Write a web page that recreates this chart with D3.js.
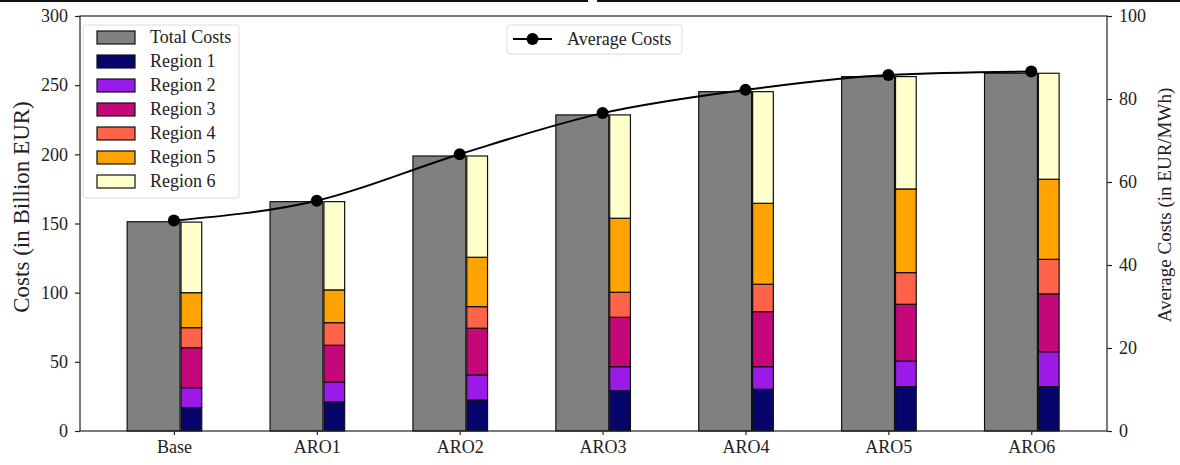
<!DOCTYPE html>
<html>
<head>
<meta charset="utf-8">
<script src="https://cdn.jsdelivr.net/npm/d3@7"></script>
<style>
body { margin:0; background:#fff; }
text { font-family: "Liberation Serif", "DejaVu Serif", serif; fill:#222; }
</style>
</head>
<body>
<svg id="drawing_region"></svg>
<script>
// chart data
const scenarios = ["Base","ARO1","ARO2","ARO3","ARO4","ARO5","ARO6"];
const totalCosts = [151.3, 165.8, 198.8, 228.5, 245.3, 256.2, 258.6];
const averageCosts = [50.7, 55.5, 66.7, 76.6, 82.2, 85.8, 86.6];
const regionNames = ["Region 1","Region 2","Region 3","Region 4","Region 5","Region 6"];
const region1 = [16.8, 21.0, 22.4, 29.1, 30.2, 32.0, 32.0];
const region2 = [14.5, 14.4, 18.1, 17.4, 16.3, 18.6, 25.3];
const region3 = [28.9, 26.6, 33.8, 35.7, 39.8, 41.0, 41.8];
const region4 = [14.5, 16.3, 15.6, 18.1, 19.8, 22.9, 25.0];
const region5 = [25.3, 23.7, 35.7, 53.5, 58.5, 60.5, 57.9];
const region6 = [51.0, 63.8, 73.2, 74.7, 80.7, 81.2, 76.6];
const leftTicks = [0, 50, 100, 150, 200, 250, 300];
const rightTicks = [0, 20, 40, 60, 80, 100];
const regionColors = ["#05056b","#9b1ae8","#c4087a","#ff6349","#ffa300","#ffffcc"];

const W = 1180, H = 465;
const margin = {top:16, right:73, bottom:34, left:80};
const iw = W - margin.left - margin.right;
const ih = H - margin.top - margin.bottom;

const svg = d3.select('#drawing_region').attr('width', W).attr('height', H);

// strip at the very top of the image
svg.append('line').attr('x1',0).attr('x2',588).attr('y1',1).attr('y2',1)
  .attr('stroke','#111').attr('stroke-width',2);
svg.append('line').attr('x1',597).attr('x2',W).attr('y1',1).attr('y2',1)
  .attr('stroke','#111').attr('stroke-width',2);

const chart = svg.append('g').attr('transform', `translate(${margin.left},${margin.top})`);

const xscale = d3.scaleLinear().domain([-0.657, 6.53]).range([0, iw]);
const yscale = d3.scaleLinear().domain([0, 300]).range([ih, 0]);
const y2scale = d3.scaleLinear().domain([0, 100]).range([ih, 0]);
const step = xscale(1) - xscale(0);

const rows = scenarios.map((s, i) => ({
  name: s, i: i, total: totalCosts[i], avg: averageCosts[i],
  r1: region1[i], r2: region2[i], r3: region3[i], r4: region4[i], r5: region5[i], r6: region6[i]
}));
const keys = ["r1","r2","r3","r4","r5","r6"];
const stacked = d3.stack().keys(keys)(rows);

// total cost bars
chart.selectAll('rect.total')
  .data(rows)
  .enter()
  .append('rect')
  .attr('class','total')
  .attr('x', d => xscale(d.i) - step*0.327)
  .attr('width', step*0.37)
  .attr('y', d => yscale(d.total))
  .attr('height', d => yscale(0) - yscale(d.total))
  .attr('fill','#808080')
  .attr('stroke','#111')
  .attr('stroke-width',1.2);

// regional stacked bars
stacked.forEach((layer, k) => {
  chart.selectAll('rect.reg' + k)
    .data(layer)
    .enter()
    .append('rect')
    .attr('class','reg' + k)
    .attr('x', (d, i) => xscale(i) + step*0.05)
    .attr('width', step*0.145)
    .attr('y', d => yscale(d[1]))
    .attr('height', d => yscale(d[0]) - yscale(d[1]))
    .attr('fill', regionColors[k])
    .attr('stroke','#111')
    .attr('stroke-width',1.2);
});

// average cost line
const line = d3.line()
  .x(d => xscale(d.i))
  .y(d => y2scale(d.avg))
  .curve(d3.curveMonotoneX);
chart.append('path')
  .datum(rows)
  .attr('d', line)
  .attr('fill','none')
  .attr('stroke','#000')
  .attr('stroke-width',2);
chart.selectAll('circle')
  .data(rows)
  .enter()
  .append('circle')
  .attr('cx', d => xscale(d.i))
  .attr('cy', d => y2scale(d.avg))
  .attr('r', 6)
  .attr('fill','#000');

// axes
const xaxis = d3.axisBottom(xscale).tickValues(d3.range(scenarios.length))
  .tickFormat(i => scenarios[i]).tickSize(4).tickPadding(5);
const yaxis = d3.axisLeft(yscale).tickValues(leftTicks).tickSize(5).tickPadding(7);
const y2axis = d3.axisRight(y2scale).tickValues(rightTicks).tickSize(5).tickPadding(7);

const xg = chart.append('g').attr('transform', `translate(0,${ih})`).call(xaxis);
const yg = chart.append('g').call(yaxis);
const y2g = chart.append('g').attr('transform', `translate(${iw},0)`).call(y2axis);
[xg, yg, y2g].forEach(g => {
  g.select('.domain').remove();
  g.selectAll('line').attr('stroke','#222').attr('stroke-width',1.2);
  g.selectAll('text').attr('font-size',18).style('font-family','"Liberation Serif", serif').attr('fill','#222');
});

// frame
chart.append('rect').attr('x',0).attr('y',0).attr('width',iw).attr('height',ih)
  .attr('fill','none').attr('stroke','#222').attr('stroke-width',1.2);

// axis labels
svg.append('text')
  .attr('transform', 'translate(29,207) rotate(-90)')
  .attr('text-anchor','middle')
  .attr('font-size',23)
  .text('Costs (in Billion EUR)');
svg.append('text')
  .attr('transform', 'translate(1171,205) rotate(-90)')
  .attr('text-anchor','middle')
  .attr('font-size',19)
  .text('Average Costs (in EUR/MWh)');

// legend for bars
const legend = svg.append('g').attr('transform','translate(83,25)');
legend.append('rect').attr('width',156).attr('height',173).attr('rx',3)
  .attr('fill','#fff').attr('fill-opacity',0.85).attr('stroke','#ddd');
const legendItems = ["Total Costs"].concat(regionNames);
const legendColors = ["#808080"].concat(regionColors);
legendItems.forEach((name, k) => {
  const g = legend.append('g').attr('transform', `translate(14,${12 + k*24})`);
  g.append('rect').attr('x',0).attr('y',-6).attr('width',38).attr('height',13)
    .attr('fill', legendColors[k]).attr('stroke','#111').attr('stroke-width',1.2);
  g.append('text').attr('x',53).attr('y',6).attr('font-size',18).text(name);
});

// legend for line
const legend2 = svg.append('g').attr('transform','translate(507,25)');
legend2.append('rect').attr('width',175).attr('height',29).attr('rx',3)
  .attr('fill','#fff').attr('fill-opacity',0.85).attr('stroke','#ddd');
legend2.append('line').attr('x1',6).attr('x2',45).attr('y1',14).attr('y2',14)
  .attr('stroke','#000').attr('stroke-width',2);
legend2.append('circle').attr('cx',25.5).attr('cy',14).attr('r',6).attr('fill','#000');
legend2.append('text').attr('x',60).attr('y',20).attr('font-size',18).text('Average Costs');
</script>
</body>
</html>
